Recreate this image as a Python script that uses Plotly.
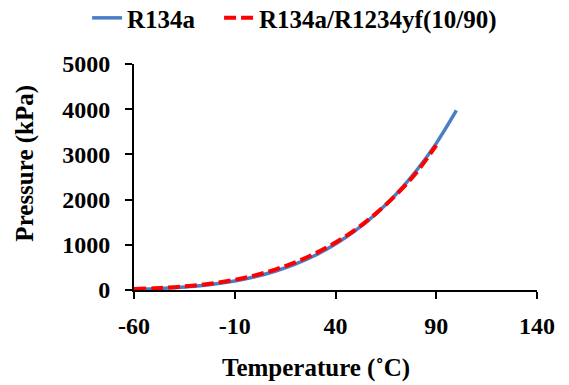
import plotly.graph_objects as go

temps_r134a = [-60, -50, -40, -30, -20, -10, 0, 10, 20, 30, 40, 50, 60, 70, 80, 90, 100]
p_r134a = [16, 29, 51, 84, 133, 201, 293, 415, 572, 770, 1017, 1318, 1682, 2116, 2632, 3244, 3972]

temps_mix = [-60, -50, -40, -30, -20, -10, 0, 10, 20, 30, 40, 50, 60, 70, 80, 90]
p_mix = [22, 38, 63, 101, 154, 226, 324, 452, 612, 810, 1050, 1340, 1690, 2100, 2590, 3200]

x_ticks = [-60, -10, 40, 90, 140]
y_ticks = [0, 1000, 2000, 3000, 4000, 5000]

font_family = "Times New Roman, Liberation Serif, DejaVu Serif, serif"
tick_size = 24
title_size = 25
legend_size = 25

fig = go.Figure()
fig.add_trace(go.Scatter(x=temps_r134a, y=p_r134a, mode="lines", name="R134a", legend="legend",
                         line=dict(color="#4A7EC6", width=3.5, shape="spline")))
fig.add_trace(go.Scatter(x=temps_mix, y=p_mix, mode="lines", name="R134a/R1234yf(10/90)", legend="legend2",
                         line=dict(color="#FF0000", width=4, dash="12px,5px", shape="spline")))

axis_common = dict(showgrid=False, zeroline=False, showline=True, linecolor="black", linewidth=2,
                   ticks="outside", ticklen=7, tickwidth=2, tickcolor="black", automargin=False,
                   tickfont=dict(family=font_family, size=tick_size, color="black", weight="bold"))

legend_font = dict(family=font_family, size=legend_size, color="black", weight="bold")

fig.update_layout(
    width=569, height=385,
    margin=dict(l=134, r=32, t=64, b=95),
    paper_bgcolor="white", plot_bgcolor="white",
    font=dict(family=font_family, color="black"),
    showlegend=True,
    legend=dict(orientation="h", x=0.153, xanchor="left", xref="container",
                y=0.953, yanchor="middle", yref="container", font=legend_font, itemwidth=30),
    legend2=dict(orientation="h", x=0.385, xanchor="left", xref="container",
                 y=0.953, yanchor="middle", yref="container", font=legend_font, itemwidth=30),
    xaxis=dict(range=[-60, 140], tickvals=x_ticks, ticktext=[str(v) for v in x_ticks],
               ticklabelstandoff=6, **axis_common),
    yaxis=dict(range=[0, 5000], tickvals=y_ticks, ticktext=[str(v) for v in y_ticks],
               ticklabelstandoff=10, **axis_common),
    annotations=[
        dict(text="Temperature (˚C)", xref="paper", yref="paper", x=0.452, y=-0.345,
             xanchor="center", yanchor="middle", showarrow=False,
             font=dict(family=font_family, size=title_size, color="black", weight="bold")),
        dict(text="Pressure (kPa)", xref="paper", yref="paper", x=-0.27, y=0.56,
             xanchor="center", yanchor="middle", showarrow=False, textangle=-90,
             font=dict(family=font_family, size=title_size, color="black", weight="bold")),
    ],
)

fig.write_html("out.html", config={"displayModeBar": False},
               post_script="document.body.style.margin='0';")
